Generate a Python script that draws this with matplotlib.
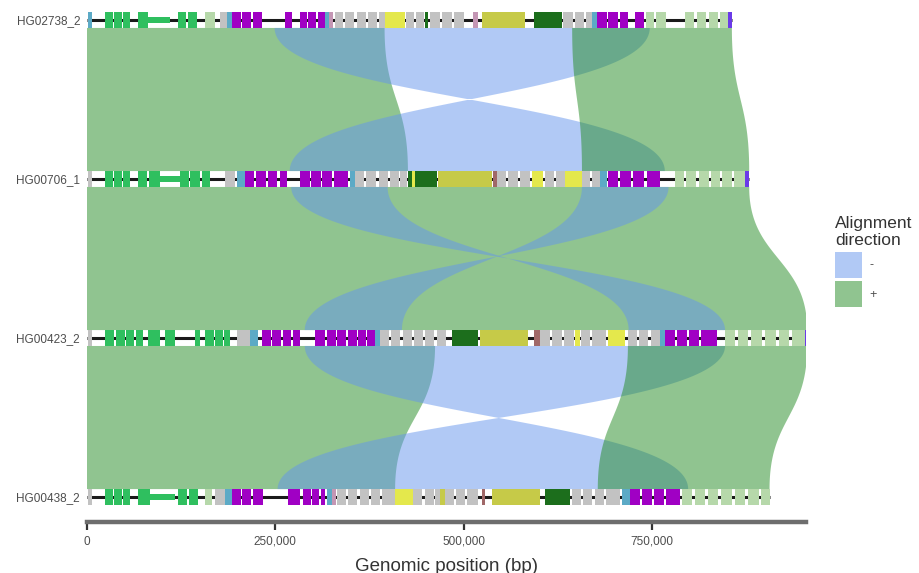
import numpy as np
import matplotlib
matplotlib.use('Agg')
import matplotlib.pyplot as plt
from matplotlib.patches import Rectangle, Patch
from matplotlib.ticker import FuncFormatter

plt.rcParams['font.family'] = ['Liberation Sans', 'DejaVu Sans']

#==============================================================================
# Data
#==============================================================================
# sequences, top to bottom
seq_names = ['HG02738_2', 'HG00706_1', 'HG00423_2', 'HG00438_2']
seq_lengths = [856000, 879000, 956000, 906000]

# alignments between neighbouring sequences (upper index, lower = upper + 1)
aln_upper = [0, 0, 0, 1, 1, 1, 2, 2, 2]
aln_up_start = [0, 249000, 644000, 0, 271000, 657000, 0, 289000, 718000]
aln_up_end = [395000, 747000, 856000, 879000, 399000, 772000, 462000, 847000, 956000]
aln_lo_start = [0, 269000, 657000, 0, 719000, 289000, 0, 253000, 678000]
aln_lo_end = [426000, 767000, 879000, 956000, 847000, 418000, 409000, 798000, 906000]
aln_strand = ['+', '-', '+', '+', '-', '-', '+', '-', '+']

# annotated features per sequence: (start kb, end kb, type)
feats_1 = [(1, 6, 'teal'), (24, 34, 'green'), (36, 46, 'green'), (48, 57, 'green'),
           (68, 81, 'green'), (81, 110, 'green_thin'), (121, 132, 'green'), (134, 146, 'green'),
           (157, 170, 'lightgreen'), (176, 186, 'grey'), (186, 192, 'teal'),
           (192, 204, 'purple'), (206, 218, 'purple'), (220, 232, 'purple'), (263, 272, 'purple'),
           (283, 292, 'purple'), (294, 304, 'purple'), (306, 316, 'purple'), (316, 321, 'teal'),
           (321, 327, 'pink'), (329, 340, 'grey'), (343, 355, 'grey'), (358, 370, 'grey'),
           (373, 385, 'grey'), (387, 395, 'grey'), (395, 422, 'yellow'), (424, 434, 'grey'),
           (437, 447, 'grey'), (448, 452, 'darkgreen'), (455, 468, 'grey'), (471, 484, 'grey'),
           (487, 500, 'grey'), (512, 519, 'pink'), (524, 581, 'olive'), (594, 630, 'darkgreen'),
           (632, 645, 'grey'), (648, 660, 'grey'), (662, 670, 'grey'), (670, 677, 'teal'),
           (677, 690, 'purple'), (692, 705, 'purple'), (707, 718, 'purple'), (727, 740, 'purple'),
           (742, 752, 'lightgreen'), (755, 768, 'lightgreen'), (794, 806, 'lightgreen'),
           (810, 822, 'lightgreen'), (826, 838, 'lightgreen'), (840, 851, 'lightgreen'),
           (851, 856, 'violet')]
feats_2 = [(1, 6, 'grey'), (24, 34, 'green'), (36, 46, 'green'), (48, 57, 'green'),
           (68, 80, 'green'), (82, 97, 'green'), (97, 123, 'green_thin'), (123, 135, 'green'),
           (137, 150, 'green'), (152, 163, 'green'), (183, 196, 'grey'), (199, 210, 'teal'),
           (210, 222, 'purple'), (224, 238, 'purple'), (240, 252, 'purple'), (256, 265, 'purple'),
           (283, 296, 'purple'), (298, 310, 'purple'), (312, 325, 'purple'), (328, 346, 'purple'),
           (349, 356, 'teal'), (356, 368, 'grey'), (371, 384, 'grey'), (387, 399, 'grey'),
           (402, 414, 'grey'), (416, 425, 'grey'), (426, 431, 'darkgreen'), (431, 435, 'yellow'),
           (435, 464, 'darkgreen'), (466, 537, 'olive'), (539, 544, 'brown'), (544, 556, 'grey'),
           (559, 572, 'grey'), (575, 588, 'grey'), (591, 605, 'yellow'), (608, 620, 'grey'),
           (622, 634, 'grey'), (634, 657, 'yellow'), (657, 668, 'grey'), (670, 681, 'grey'),
           (681, 690, 'teal'), (691, 705, 'purple'), (708, 722, 'purple'), (725, 740, 'purple'),
           (743, 760, 'purple'), (780, 792, 'lightgreen'), (795, 808, 'lightgreen'),
           (812, 825, 'lightgreen'), (828, 840, 'lightgreen'), (843, 856, 'lightgreen'),
           (859, 873, 'lightgreen'), (873, 879, 'violet')]
feats_3 = [(1, 6, 'grey'), (24, 36, 'green'), (38, 50, 'green'), (52, 63, 'green'),
           (65, 74, 'green'), (81, 97, 'green'), (104, 117, 'green'), (143, 150, 'green'),
           (157, 168, 'green'), (170, 180, 'green'), (182, 190, 'green'), (199, 216, 'grey'),
           (216, 227, 'teal'), (232, 244, 'purple'), (246, 258, 'purple'), (260, 271, 'purple'),
           (273, 283, 'purple'), (303, 316, 'purple'), (318, 330, 'purple'), (332, 344, 'purple'),
           (346, 358, 'purple'), (360, 370, 'purple'), (372, 382, 'purple'), (382, 389, 'teal'),
           (389, 401, 'grey'), (404, 416, 'grey'), (419, 431, 'grey'), (434, 446, 'grey'),
           (449, 461, 'grey'), (464, 476, 'grey'), (484, 519, 'darkgreen'), (522, 585, 'olive'),
           (594, 601, 'brown'), (601, 614, 'grey'), (617, 630, 'grey'), (633, 646, 'grey'),
           (648, 654, 'yellow'), (656, 668, 'grey'), (671, 689, 'grey'), (691, 714, 'yellow'),
           (718, 730, 'grey'), (733, 745, 'grey'), (748, 760, 'grey'), (760, 767, 'teal'),
           (767, 780, 'purple'), (783, 796, 'purple'), (799, 812, 'purple'), (815, 836, 'purple'),
           (847, 860, 'lightgreen'), (864, 878, 'lightgreen'), (882, 896, 'lightgreen'),
           (900, 914, 'lightgreen'), (918, 932, 'lightgreen'), (936, 953, 'lightgreen'),
           (953, 956, 'violet')]
feats_4 = [(1, 6, 'grey'), (24, 34, 'green'), (36, 46, 'green'), (48, 57, 'green'),
           (68, 84, 'green'), (84, 117, 'green_thin'), (121, 133, 'green'), (135, 147, 'green'),
           (157, 166, 'lightgreen'), (170, 183, 'grey'), (183, 192, 'teal'),
           (192, 204, 'purple'), (206, 218, 'purple'), (220, 234, 'purple'), (267, 283, 'purple'),
           (287, 297, 'purple'), (299, 308, 'purple'), (310, 316, 'purple'), (318, 325, 'teal'),
           (325, 331, 'pink'), (332, 344, 'grey'), (347, 359, 'grey'), (362, 374, 'grey'),
           (377, 389, 'grey'), (392, 409, 'grey'), (409, 433, 'yellow'), (433, 445, 'grey'),
           (448, 460, 'grey'), (462, 468, 'grey'), (468, 475, 'olive'), (475, 487, 'grey'),
           (490, 502, 'grey'), (505, 519, 'grey'), (524, 528, 'brown'), (537, 601, 'olive'),
           (608, 641, 'darkgreen'), (644, 656, 'grey'), (659, 671, 'grey'), (674, 686, 'grey'),
           (689, 707, 'grey'), (710, 721, 'teal'), (721, 734, 'purple'), (737, 750, 'purple'),
           (753, 766, 'purple'), (769, 787, 'purple'), (790, 803, 'lightgreen'),
           (807, 820, 'lightgreen'), (824, 838, 'lightgreen'), (842, 856, 'lightgreen'),
           (860, 874, 'lightgreen'), (878, 892, 'lightgreen'), (895, 906, 'lightgreen')]
seq_feats = [feats_1, feats_2, feats_3, feats_4]

x_ticks = [0, 250000, 500000, 750000]

#==============================================================================
# Styles
#==============================================================================
strand_colors = {'-': '#6495ED', '+': '#228B22'}
feat_colors = {'green': '#2fbf5f', 'green_thin': '#2fbf5f', 'purple': '#a000c4',
               'grey': '#c2c2c2', 'yellow': '#e4e84c', 'olive': '#c6ca48',
               'darkgreen': '#1c6e1c', 'brown': '#a06868', 'lightgreen': '#b6d8aa',
               'teal': '#5caac6', 'violet': '#6a3ae8', 'pink': '#c496b4'}
feat_h = 0.1       # feature height in y units
thin_h = 0.035


def diagonal(x0, y0, x1, y1, n=80):
    # cubic bezier with control points at the vertical midpoint
    u = np.linspace(0, 1, n)
    ym = (y0 + y1) / 2
    bx = (1-u)**3*x0 + 3*(1-u)**2*u*x0 + 3*(1-u)*u**2*x1 + u**3*x1
    by = (1-u)**3*y0 + 3*(1-u)**2*u*ym + 3*(1-u)*u**2*ym + u**3*y1
    return bx, by


fig = plt.figure(figsize=(9.19, 5.73), dpi=100)
ax = fig.add_axes([87/919, 1-522/573, (806-87)/919, 516/573])

n_seq = len(seq_names)
seq_y = [n_seq - 1 - i for i in range(n_seq)]

# alignments
for k in range(len(aln_upper)):
    i = aln_upper[k]
    yt = seq_y[i] - feat_h/2
    yb = seq_y[i+1] + feat_h/2
    us, ue = aln_up_start[k], aln_up_end[k]
    ls, le = aln_lo_start[k], aln_lo_end[k]
    if aln_strand[k] == '+':
        x1, y1 = diagonal(us, yt, ls, yb)
        x2, y2 = diagonal(ue, yt, le, yb)
    else:
        x1, y1 = diagonal(us, yt, le, yb)
        x2, y2 = diagonal(ue, yt, ls, yb)
    px = np.concatenate([x1, x2[::-1]])
    py = np.concatenate([y1, y2[::-1]])
    ax.fill(px, py, color=strand_colors[aln_strand[k]], alpha=0.5, lw=0)

# sequences and features
for i in range(n_seq):
    y = seq_y[i]
    ax.plot([0, seq_lengths[i]], [y, y], color='#1a1a1a', lw=2.2,
            solid_capstyle='butt', zorder=3)
    for (s, e, t) in seq_feats[i]:
        h = thin_h if t == 'green_thin' else feat_h
        ax.add_patch(Rectangle((s*1000, y - h/2), (e - s)*1000, h,
                               facecolor=feat_colors[t], edgecolor='none', zorder=4))

ax.set_xlim(0, 954400)
ax.set_ylim(-0.157, 3.088)

ax.set_yticks(seq_y)
ax.set_yticklabels(seq_names)
ax.tick_params(axis='y', length=0, pad=5, labelsize=8.5, labelcolor='#4d4d4d')

ax.set_xticks(x_ticks)
ax.xaxis.set_major_formatter(FuncFormatter(lambda v, p: f'{int(v):,}'))
ax.tick_params(axis='x', length=6, width=1.6, color='#333333', pad=4,
               labelsize=8.5, labelcolor='#4d4d4d')
ax.set_xlabel('Genomic position (bp)', fontsize=13.5, color='#333333', labelpad=7)

for s in ['top', 'right', 'left']:
    ax.spines[s].set_visible(False)
ax.spines['bottom'].set_linewidth(3.2)
ax.spines['bottom'].set_color('#6e6e6e')

handles = [Patch(facecolor=strand_colors['-'], alpha=0.5, label='-'),
           Patch(facecolor=strand_colors['+'], alpha=0.5, label='+')]
leg = fig.legend(handles=handles, title='Alignment\ndirection', loc='upper left',
                 bbox_to_anchor=(826/919, 1 - 207/573), frameon=False,
                 fontsize=9, title_fontsize=12.5, handlelength=2.2, handleheight=2.8,
                 labelspacing=0.3, handletextpad=0.6, alignment='left',
                 borderaxespad=0.3)
for t in leg.get_texts():
    t.set_color('#4d4d4d')
leg.get_title().set_color('#333333')

plt.savefig('out.png', dpi=100)
